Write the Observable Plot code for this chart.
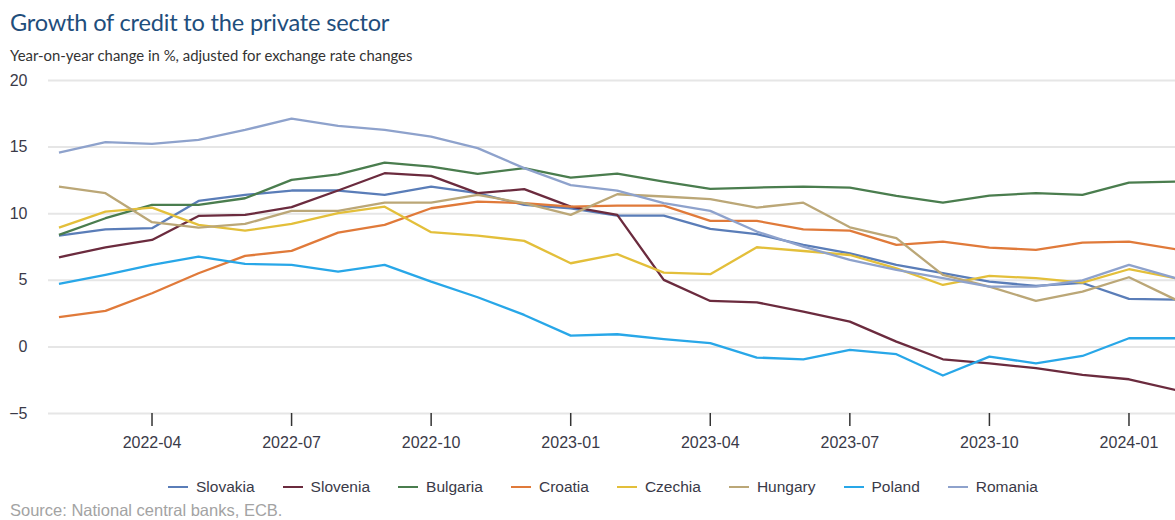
<!DOCTYPE html>
<html>
<head>
<meta charset="utf-8">
<script src="https://cdn.jsdelivr.net/npm/d3@7"></script>
<script src="https://cdn.jsdelivr.net/npm/@observablehq/plot@0.6"></script>
<style>
  html, body { margin: 0; padding: 0; background: #fff; }
  body { width: 1175px; height: 520px; position: relative; overflow: hidden; }
  #title { position: absolute; left: 10px; top: 8px; font-family: Lato, "Open Sans", sans-serif; font-size: 23.6px; color: #1f4e7c; white-space: nowrap; letter-spacing: -0.2px; }
  #subtitle { position: absolute; left: 10px; top: 46px; font-family: Lato, "Open Sans", sans-serif; font-size: 14.9px; color: #333; white-space: nowrap; }
  #chart { position: absolute; left: 0; top: 70px; }
  #legend { position: absolute; left: 168px; top: 478px; display: flex; align-items: center; font-family: "Liberation Sans", Arial, sans-serif; font-size: 15.5px; color: #3a3a48; white-space: nowrap; }
  .item { display: flex; align-items: center; margin-right: 28px; }
  .sw { width: 20px; height: 2.5px; margin-right: 8px; }
  #source { position: absolute; left: 10px; top: 501px; font-family: "Liberation Sans", Arial, sans-serif; font-size: 16.5px; color: #a3a3a3; white-space: nowrap; }
</style>
</head>
<body>
<div id="title">Growth of credit to the private sector</div>
<div id="subtitle">Year-on-year change in %, adjusted for exchange rate changes</div>
<div id="chart"></div>
<div id="legend"></div>
<div id="source">Source: National central banks, ECB.</div>
<script>
const months = ["2022-02","2022-03","2022-04","2022-05","2022-06","2022-07","2022-08","2022-09","2022-10","2022-11","2022-12",
  "2023-01","2023-02","2023-03","2023-04","2023-05","2023-06","2023-07","2023-08","2023-09","2023-10","2023-11","2023-12",
  "2024-01","2024-02"];
const tickMonths = ["2022-04","2022-07","2022-10","2023-01","2023-04","2023-07","2023-10","2024-01"];
const yTicks = [-5, 0, 5, 10, 15, 20];

const countries = ["Slovakia","Slovenia","Bulgaria","Croatia","Czechia","Hungary","Poland","Romania"];
const colors = ["#5a7db8","#6b2b3e","#4a7d4e","#e07a3a","#e3bf3a","#bba777","#28a7e8","#8ea2cc"];

const slovakia = [8.36, 8.83, 8.91, 10.96, 11.41, 11.74, 11.74, 11.41, 12.04, 11.54, 10.66, 10.41, 9.86, 9.86, 8.86, 8.46, 7.66, 7.03, 6.16, 5.53, 4.9, 4.58, 4.8, 3.6, 3.55];
const slovenia = [6.73, 7.48, 8.03, 9.83, 9.91, 10.49, 11.74, 13.04, 12.84, 11.54, 11.84, 10.53, 9.91, 5.03, 3.45, 3.35, 2.65, 1.9, 0.4, -0.93, -1.23, -1.6, -2.1, -2.43, -3.23];
const bulgaria = [8.41, 9.66, 10.66, 10.66, 11.16, 12.54, 12.96, 13.84, 13.54, 12.99, 13.42, 12.71, 13.01, 12.41, 11.86, 11.96, 12.04, 11.96, 11.34, 10.83, 11.36, 11.54, 11.41, 12.34, 12.41];
const croatia = [2.23, 2.7, 4.03, 5.53, 6.83, 7.21, 8.58, 9.16, 10.41, 10.91, 10.79, 10.53, 10.61, 10.61, 9.46, 9.46, 8.83, 8.73, 7.66, 7.91, 7.46, 7.28, 7.83, 7.91, 7.33];
const czechia = [8.96, 10.16, 10.46, 9.16, 8.73, 9.23, 10.04, 10.53, 8.61, 8.36, 7.96, 6.28, 6.96, 5.58, 5.46, 7.48, 7.2, 6.9, 5.9, 4.65, 5.33, 5.16, 4.83, 5.83, 5.16];
const hungary = [12.04, 11.54, 9.36, 8.96, 9.23, 10.21, 10.21, 10.83, 10.83, 11.41, 10.79, 9.91, 11.46, 11.29, 11.09, 10.46, 10.83, 8.98, 8.16, 5.41, 4.53, 3.45, 4.15, 5.23, 3.55];
const poland = [4.73, 5.41, 6.16, 6.78, 6.23, 6.16, 5.65, 6.16, 4.9, 3.73, 2.4, 0.85, 0.95, 0.58, 0.28, -0.8, -0.93, -0.23, -0.55, -2.15, -0.73, -1.23, -0.68, 0.65, 0.65];
const romania = [14.59, 15.37, 15.24, 15.54, 16.29, 17.14, 16.59, 16.29, 15.79, 14.92, 13.42, 12.14, 11.74, 10.79, 10.21, 8.66, 7.53, 6.53, 5.78, 5.16, 4.53, 4.53, 5.0, 6.16, 5.16];

const series = [slovakia, slovenia, bulgaria, croatia, czechia, hungary, poland, romania];
const data = [];
series.forEach((vals, k) => vals.forEach((v, i) => data.push({country: countries[k], m: i, value: v})));

const plot = Plot.plot({
  width: 1175,
  height: 390,
  marginLeft: 48,
  marginRight: 0,
  marginTop: 10,
  marginBottom: 47,
  style: {fontFamily: "'Liberation Sans', Arial, sans-serif", fontSize: "16px", color: "#3a3a48", background: "#fff"},
  x: {type: "linear", domain: [-0.225, months.length - 1], label: null},
  y: {domain: [-5, 20], label: null},
  color: {domain: countries, range: colors},
  marks: [
    Plot.gridY(yTicks, {stroke: "#e6e6e6", strokeOpacity: 1, strokeWidth: 2}),
    Plot.axisY(yTicks, {tickSize: 0, tickPadding: 21, fontSize: 16, label: null}),
    Plot.axisX(tickMonths.map(t => months.indexOf(t)), {
      tickSize: 13, tickPadding: 10, fontSize: 16, stroke: "#333", strokeWidth: 1.5,
      tickFormat: i => months[i], label: null
    }),
    Plot.line(data, {x: "m", y: "value", z: "country", stroke: "country", strokeWidth: 2.3, strokeLinejoin: "round", strokeLinecap: "butt"})
  ]
});
document.getElementById("chart").appendChild(plot);

const legend = document.getElementById("legend");
countries.forEach((c, k) => {
  const item = document.createElement("div");
  item.className = "item";
  const sw = document.createElement("span");
  sw.className = "sw";
  sw.style.background = colors[k];
  const tx = document.createElement("span");
  tx.textContent = c;
  item.appendChild(sw);
  item.appendChild(tx);
  legend.appendChild(item);
});
</script>
</body>
</html>
